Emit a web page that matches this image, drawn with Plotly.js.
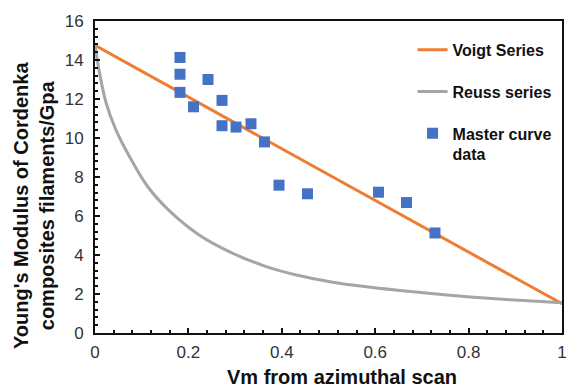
<!DOCTYPE html>
<html>
<head>
<meta charset="utf-8">
<script src="https://cdn.plot.ly/plotly-3.0.1.min.js"></script>
<style>
  html, body { margin: 0; padding: 0; background: #fff; }
  #chart { width: 567px; height: 388px; }
</style>
</head>
<body>
<div id="chart"></div>
<script>
// Voigt (iso-strain) bound: straight line between fibre and matrix moduli
const voigtVm = [0, 1];
const voigtE = [14.75, 1.5];

// Reuss (iso-stress) bound
const reussVm = [0, 0.01, 0.024, 0.045, 0.074, 0.113, 0.16, 0.223, 0.294, 0.365, 0.436, 0.506, 0.577, 0.648, 0.748, 0.819, 0.889, 1.0];
const reussE = [14.75, 13.3, 11.78, 10.4, 9.04, 7.5, 6.25, 5.03, 4.10, 3.42, 2.95, 2.62, 2.38, 2.19, 1.96, 1.82, 1.70, 1.55];

// Measured master-curve points
const masterVm = [0.182, 0.182, 0.182, 0.211, 0.242, 0.272, 0.272, 0.302, 0.334, 0.363, 0.394, 0.455, 0.607, 0.667, 0.728];
const masterE = [14.13, 13.27, 12.34, 11.60, 13.00, 11.93, 10.63, 10.56, 10.73, 9.80, 7.58, 7.14, 7.22, 6.69, 5.13];

const FONT = '"Liberation Sans", Arial, sans-serif';

const traces = [
  {
    x: voigtVm, y: voigtE, type: 'scatter', mode: 'lines',
    name: '<b>Voigt Series</b>', legendgroup: 'a',
    line: { color: '#ED7D31', width: 3 }
  },
  {
    x: reussVm, y: reussE, type: 'scatter', mode: 'lines',
    name: '<b>Reuss series</b>', legendgroup: 'b',
    line: { color: '#A5A5A5', width: 3, shape: 'spline', smoothing: 1 }
  },
  {
    x: masterVm, y: masterE, type: 'scatter', mode: 'markers',
    name: '<b>Master curve<br>data</b>', legendgroup: 'c',
    marker: { symbol: 'square', size: 11, color: '#4472C4' }
  }
];

const axisCommon = {
  showgrid: false, zeroline: false,
  showline: true, linecolor: '#111', linewidth: 2, mirror: true,
  ticks: 'inside', ticklen: 5, tickwidth: 2, tickcolor: '#111',
  ticklabeloverflow: 'allow',
  tickfont: { family: FONT, size: 17, color: '#333' }
};

const layout = {
  width: 567, height: 388,
  margin: { l: 95, r: 5, t: 21, b: 55 },
  paper_bgcolor: '#fff', plot_bgcolor: '#fff',
  showlegend: true,
  legend: {
    x: 0.68, y: 0.962, xanchor: 'left', yanchor: 'top',
    bgcolor: 'rgba(0,0,0,0)', borderwidth: 0,
    traceorder: 'grouped', tracegroupgap: 18, valign: 'top',
    font: { family: FONT, size: 16, color: '#111' }
  },
  xaxis: Object.assign({}, axisCommon, {
    range: [0, 1], dtick: 0.2, tick0: 0,
    ticklabelstandoff: 3,
    minor: { dtick: 0.04, ticks: 'inside', ticklen: 3, tickwidth: 2, tickcolor: '#111' }
  }),
  yaxis: Object.assign({}, axisCommon, {
    range: [0, 16], dtick: 2, tick0: 0,
    ticklabelstandoff: 6,
    minor: { dtick: 0.4, ticks: 'inside', ticklen: 3, tickwidth: 2, tickcolor: '#111' }
  }),
  annotations: [
    {
      text: '<b>Vm from azimuthal scan</b>',
      xref: 'paper', yref: 'paper', x: 0.528, y: -0.142,
      xanchor: 'center', yanchor: 'middle', showarrow: false,
      font: { family: FONT, size: 20, color: '#111' }
    },
    {
      text: "<b>Young's Modulus of Cordenka<br>composites filaments/Gpa</b>",
      xref: 'paper', yref: 'paper', x: -0.132, y: 0.408,
      xanchor: 'center', yanchor: 'middle', textangle: -90, showarrow: false,
      font: { family: FONT, size: 20, color: '#111' }
    }
  ]
};

Plotly.newPlot('chart', traces, layout, { displayModeBar: false, staticPlot: true });
</script>
</body>
</html>
